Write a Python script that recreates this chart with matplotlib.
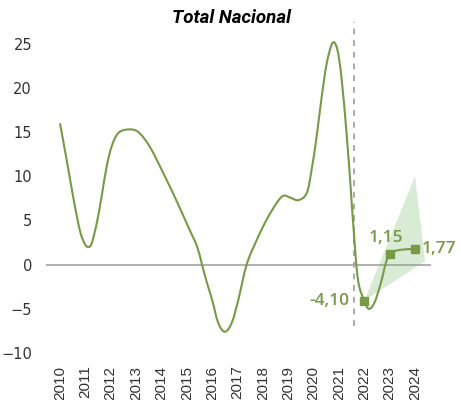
import matplotlib.pyplot as plt
from matplotlib.path import Path
from matplotlib.patches import PathPatch

# curve (year, value)
t = [2010.0, 2010.26, 2010.53, 2010.79, 2010.99, 2011.12, 2011.25, 2011.45, 2011.64,
     2011.84, 2012.04, 2012.3, 2012.7, 2013.09, 2013.55, 2014.1, 2014.6, 2015.1,
     2015.4, 2015.6, 2015.8, 2016.0, 2016.24, 2016.5, 2016.77, 2017.03, 2017.36,
     2017.76, 2018.15, 2018.55, 2018.81, 2019.07, 2019.4, 2019.73, 2019.92, 2020.12,
     2020.32, 2020.52, 2020.75, 2020.94, 2021.11, 2021.31, 2021.46, 2021.57, 2021.75,
     2022.0, 2022.18, 2022.4, 2022.65, 2022.85, 2023.0, 2023.28, 2023.67, 2024.0]
valor = [16.0, 11.9, 7.5, 3.8, 2.3, 2.0, 2.4, 4.7, 7.7,
         11.1, 13.4, 14.9, 15.3, 15.0, 13.3, 10.2, 7.2, 4.0,
         2.1, 0.0, -2.1, -4.0, -6.6, -7.6, -6.6, -4.0, 0.0,
         2.8, 5.1, 7.0, 7.8, 7.6, 7.3, 8.1, 10.7, 14.5,
         19.0, 22.8, 25.1, 24.3, 20.9, 14.5, 8.8, 4.3, -1.7,
         -4.10, -5.0, -4.3, -2.1, 0.2, 1.15, 1.6, 1.74, 1.77]

anos = list(range(2010, 2025))
proy_x = [2022, 2023, 2024]
proy_y = [-4.10, 1.15, 1.77]
etiquetas = ['-4,10', '1,15', '1,77']

# confidence band around the projection
banda_x = [2022, 2024, 2024.4]
banda_y = [-4.10, 10.0, 0.4]

verde = '#789a47'


def suave(xs, ys):
    # catmull-rom through the points, drawn as bezier segments
    n = len(xs)
    verts = [(xs[0], ys[0])]
    codes = [Path.MOVETO]
    for i in range(n - 1):
        a = max(i - 1, 0)
        d = min(i + 2, n - 1)
        c1 = (xs[i] + (xs[i + 1] - xs[a]) / 6, ys[i] + (ys[i + 1] - ys[a]) / 6)
        c2 = (xs[i + 1] - (xs[d] - xs[i]) / 6, ys[i + 1] - (ys[d] - ys[i]) / 6)
        verts += [c1, c2, (xs[i + 1], ys[i + 1])]
        codes += [Path.CURVE4] * 3
    return Path(verts, codes)


fig = plt.figure(figsize=(4.61, 4.0), dpi=100)
ax = fig.add_axes([46 / 461, 47 / 400, 385 / 461, 331 / 400])

ax.fill(banda_x, banda_y, color='#d8ecd5', lw=0, zorder=1)
ax.axhline(0, color='#9a9a9a', lw=1.1, zorder=2)
ax.vlines(2021.6, -7, 27.5, color='#aaaaaa', lw=1.4, linestyles=(0, (3, 3)), zorder=2)
ax.add_patch(PathPatch(suave(t, valor), fill=False, edgecolor=verde, lw=1.5, zorder=3))
ax.plot(proy_x, proy_y, 's', color=verde, ms=6, zorder=4)

lab_font = dict(color=verde, fontsize=12.5, fontweight='semibold', family='Open Sans')
ax.annotate(etiquetas[0], (proy_x[0], proy_y[0]), xytext=(-11, 0), textcoords='offset points',
            ha='right', va='center', **lab_font)
ax.annotate(etiquetas[1], (proy_x[1], proy_y[1]), xytext=(-3, 6), textcoords='offset points',
            ha='center', va='bottom', **lab_font)
ax.annotate(etiquetas[2], (proy_x[2], proy_y[2]), xytext=(5, 0), textcoords='offset points',
            ha='left', va='center', **lab_font)

ax.set_xlim(2009.448, 2024.63)
ax.set_ylim(-10, 27.46)
ax.set_yticks([-10, -5, 0, 5, 10, 15, 20, 25])
ax.set_xticks(anos)
ax.set_xticklabels([str(a) for a in anos], rotation=90, family='Liberation Sans',
                   fontsize=11, color='#333333')
for lab in ax.get_yticklabels():
    lab.set_family('DejaVu Sans')
    lab.set_fontsize(10.5)
    lab.set_color('#333333')
ax.tick_params(length=0)
ax.tick_params(axis='x', pad=9)
ax.tick_params(axis='y', pad=10)
for s in ax.spines.values():
    s.set_visible(False)

fig.text(231 / 461, 1 - 18 / 400, 'Total Nacional', ha='center', va='center',
         fontsize=13.5, fontweight='bold', fontstyle='italic', family='Roboto')

fig.savefig('out.png', dpi=100)
